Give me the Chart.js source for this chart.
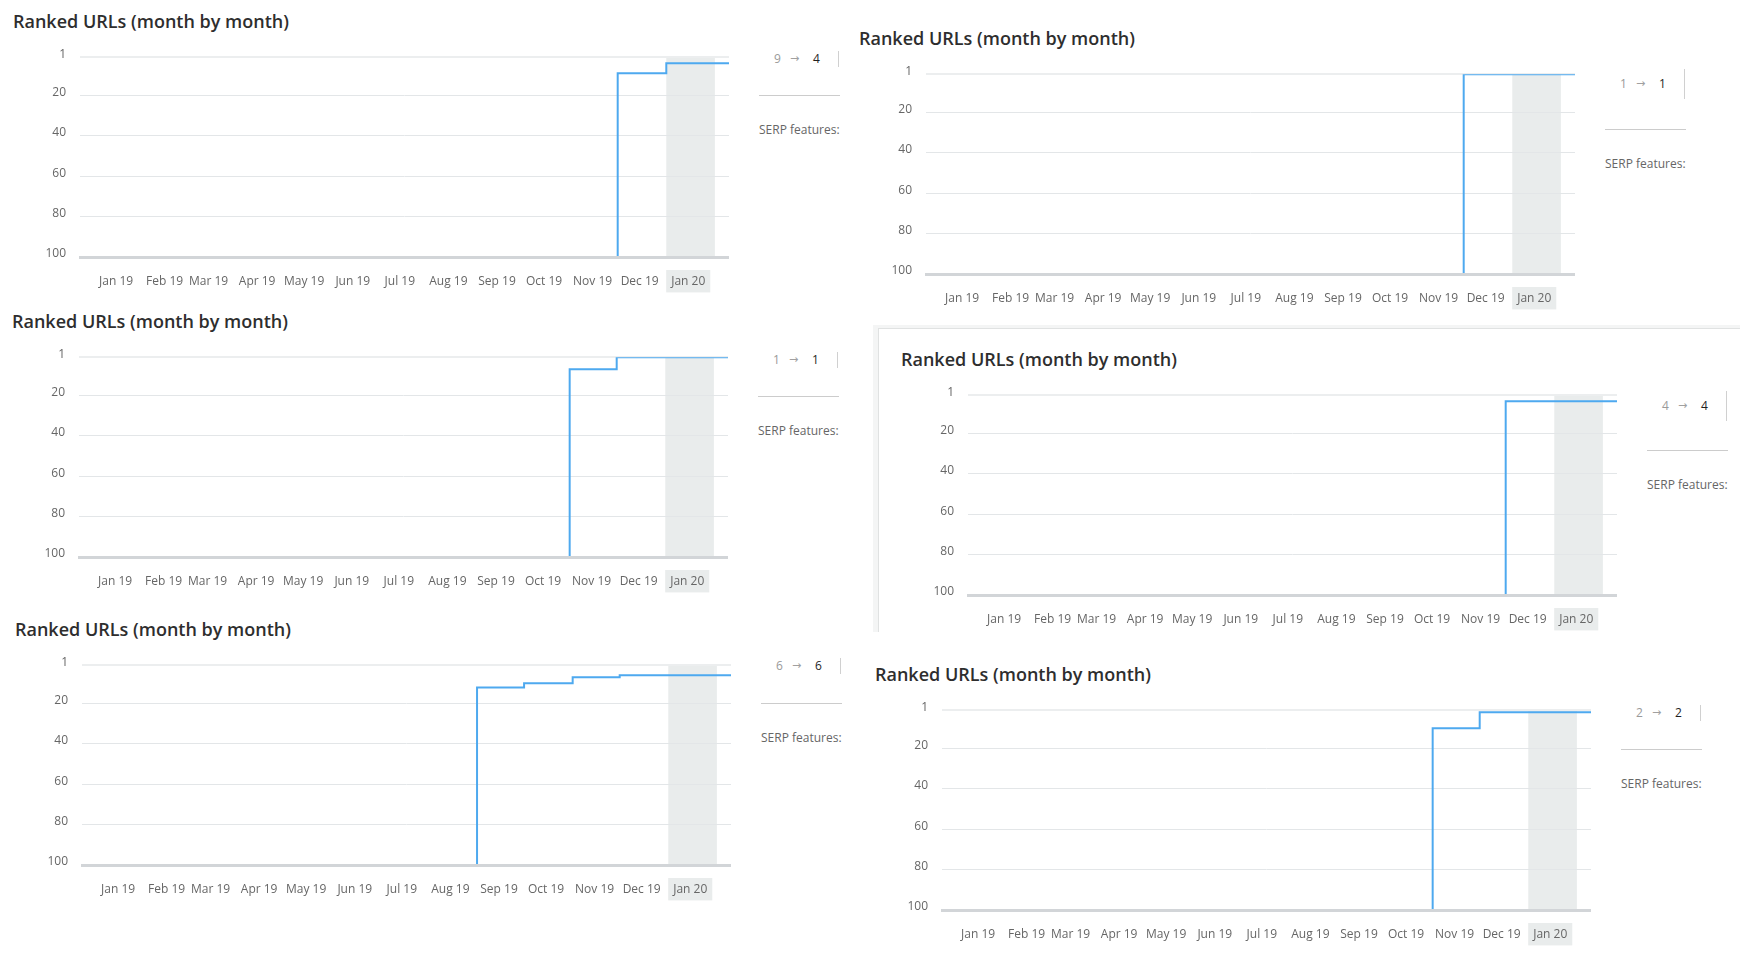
<!DOCTYPE html>
<html>
<head>
<meta charset="utf-8">
<title>Ranked URLs (month by month)</title>
<script src="https://cdn.jsdelivr.net/npm/chart.js@4.4.0/dist/chart.umd.min.js"></script>
<style>
  body { margin: 0; width: 1740px; height: 956px; position: relative; overflow: hidden; background: #fff; font-family: "Open Sans", sans-serif; }
  .title { position: absolute; font-size: 18px; font-weight: 600; color: #2e2e2e; white-space: nowrap; line-height: 24px; }
  .chart { position: absolute; }
  .num { position: absolute; font-size: 12px; line-height: 16px; color: #9a9a9a; white-space: nowrap; }
  .num.cur { color: #1f1f1f; font-weight: 500; }
  .num.arrow { font-family: "DejaVu Sans", sans-serif; font-size: 11px; color: #a0a0a0; }
  .vline { position: absolute; width: 1px; background: #d0d0d0; }
  .hline { position: absolute; height: 1px; background: #cccccc; }
  .serp { position: absolute; font-size: 12px; line-height: 16px; color: #666; white-space: nowrap; }
  .frame { position: absolute; left: 873px; top: 325px; width: 900px; height: 304px; border-left: 5px solid #f4f5f5; border-top: 3px solid #f4f5f5; }
  .frame div { position: absolute; left: 0; top: 0; right: 0; bottom: 0; border-left: 1px solid #e0e2e2; border-top: 1px solid #e0e2e2; }
</style>
</head>
<body>
<div class="frame"><div></div></div>
<script>
// month starts (data points), last entry is the end of the data
const pointDates = ["2019-01-01", "2019-02-01", "2019-03-01", "2019-04-01", "2019-05-01", "2019-06-01",
  "2019-07-01", "2019-08-01", "2019-09-01", "2019-10-01", "2019-11-01", "2019-12-01", "2020-01-01", "2020-02-10"];
const tickDates = ["2019-01-15", "2019-02-15", "2019-03-15", "2019-04-15", "2019-05-15", "2019-06-15",
  "2019-07-15", "2019-08-15", "2019-09-15", "2019-10-15", "2019-11-15", "2019-12-15", "2020-01-15"];
const monthLabels = ["Jan 19", "Feb 19", "Mar 19", "Apr 19", "May 19", "Jun 19", "Jul 19",
  "Aug 19", "Sep 19", "Oct 19", "Nov 19", "Dec 19", "Jan 20"];
const axisStart = "2018-12-23";
const axisEnd = "2020-02-10";
const highlightStart = "2020-01-01";
const highlightEnd = "2020-02-01";
const rankTicks = [1, 20, 40, 60, 80, 100];

// 100 = not ranked in top 100
const ranksA = [100, 100, 100, 100, 100, 100, 100, 100, 100, 100, 100, 9, 4, 4];
const ranksB = [100, 100, 100, 100, 100, 100, 100, 100, 100, 100, 100, 1, 1, 1];
const ranksC = [100, 100, 100, 100, 100, 100, 100, 100, 100, 100, 7, 1, 1, 1];
const ranksD = [100, 100, 100, 100, 100, 100, 100, 100, 100, 100, 100, 4, 4, 4];
const ranksE = [100, 100, 100, 100, 100, 100, 100, 100, 12, 10, 7, 6, 6, 6];
const ranksF = [100, 100, 100, 100, 100, 100, 100, 100, 100, 100, 10, 2, 2, 2];

// panel placement: left/top of plot area, sidebar offsets
const panels = [
  { ranks: ranksA, left: 80, top: 57, numDy: 2, side: 0, tall: false },
  { ranks: ranksB, left: 926, top: 74, numDy: 10, side: 17, tall: true },
  { ranks: ranksC, left: 79, top: 357, numDy: 3, side: 1, tall: false },
  { ranks: ranksD, left: 968, top: 395, numDy: 11, side: 17, tall: true },
  { ranks: ranksE, left: 82, top: 665, numDy: 1, side: 0, tall: false },
  { ranks: ranksF, left: 942, top: 710, numDy: 3, side: 1, tall: false }
];

// y axis reserves half a label + tick padding above the plot (7.2 + 14)
const plotW = 649, plotH = 200, yAxisW = 50, xAxisH = 40, padTop = 21;
const lineColor = "#4ea9ef";
const bandColor = "#e9ecec";

Chart.defaults.font.family = "'Open Sans', sans-serif";

const day = s => (Date.parse(s) - Date.parse("2019-01-01")) / 86400000;

const highlightPlugin = {
  id: "highlight",
  beforeDraw(chart) {
    const { ctx, chartArea, scales } = chart;
    const x0 = scales.x.getPixelForValue(day(highlightStart));
    const x1 = scales.x.getPixelForValue(day(highlightEnd));
    ctx.save();
    ctx.fillStyle = bandColor;
    ctx.fillRect(x0, chartArea.top, x1 - x0, chartArea.bottom - chartArea.top);
    ctx.restore();
  }
};

function addEl(cls, text, css) {
  const el = document.createElement("div");
  el.className = cls;
  if (text) el.textContent = text;
  Object.assign(el.style, css);
  document.body.appendChild(el);
  return el;
}

panels.forEach(p => {
  const right = p.left + plotW;

  addEl("title", "Ranked URLs (month by month)", { left: (p.left - 67) + "px", top: (p.top - 48) + "px" });

  const canvas = document.createElement("canvas");
  canvas.className = "chart";
  canvas.width = yAxisW + plotW;
  canvas.height = padTop + plotH + xAxisH;
  canvas.style.left = (p.left - yAxisW) + "px";
  canvas.style.top = (p.top - padTop) + "px";
  document.body.appendChild(canvas);

  new Chart(canvas, {
    type: "line",
    data: {
      datasets: [{
        data: pointDates.map((d, i) => ({ x: day(d), y: p.ranks[i] })),
        borderColor: lineColor,
        borderWidth: 2,
        pointRadius: 0,
        stepped: "before",
        fill: false
      }]
    },
    options: {
      responsive: false,
      animation: false,
      layout: { padding: 0 },
      plugins: { legend: { display: false }, tooltip: { enabled: false } },
      scales: {
        x: {
          type: "linear",
          min: day(axisStart),
          max: day(axisEnd),
          afterBuildTicks: scale => { scale.ticks = tickDates.map(d => ({ value: day(d) })); },
          afterFit: scale => { scale.height = xAxisH; },
          grid: { display: false, drawTicks: false },
          border: { display: true, color: "#d2d5d8", width: 3, z: 1 },
          ticks: {
            autoSkip: false,
            maxRotation: 0,
            padding: 17,
            color: "#666",
            font: { size: 12 },
            callback: (v, i) => monthLabels[i],
            showLabelBackdrop: ctx => ctx.index === monthLabels.length - 1,
            backdropColor: bandColor,
            backdropPadding: { x: 5, y: 4 }
          }
        },
        y: {
          type: "linear",
          reverse: true,
          min: 1,
          max: 100,
          afterBuildTicks: scale => { scale.ticks = rankTicks.map(v => ({ value: v })); },
          afterFit: scale => { scale.width = yAxisW; },
          grid: {
            drawTicks: false,
            color: ctx => ctx.index === 0 ? "#eceeef" : "#e3e6e8",
            lineWidth: ctx => ctx.index === 0 ? 2 : 1
          },
          border: { display: false },
          ticks: { padding: 14, labelOffset: -3, color: "#666", font: { size: 12 } }
        }
      }
    },
    plugins: [highlightPlugin]
  });

  // sidebar: previous month -> current month
  const n = p.ranks.length;
  const prev = p.ranks[n - 3], cur = p.ranks[n - 2];
  const numY = p.top + p.numDy;
  addEl("num", String(prev), { left: (right + 45) + "px", top: (numY - 8) + "px" });
  addEl("num arrow", "\u2192", { left: (right + 61) + "px", top: (numY - 8) + "px" });
  addEl("num cur", String(cur), { left: (right + 84) + "px", top: (numY - 8) + "px" });
  const vh = p.tall ? 30 : 16;
  addEl("vline", "", { left: (right + 109) + "px", top: (numY - vh / 2) + "px", height: vh + "px" });
  addEl("hline", "", { left: (right + 30) + "px", top: (p.top + 38 + p.side) + "px", width: "81px" });
  addEl("serp", "SERP features:", { left: (right + 30) + "px", top: (p.top + 73 + p.side - 8) + "px" });
});
</script>
</body>
</html>
